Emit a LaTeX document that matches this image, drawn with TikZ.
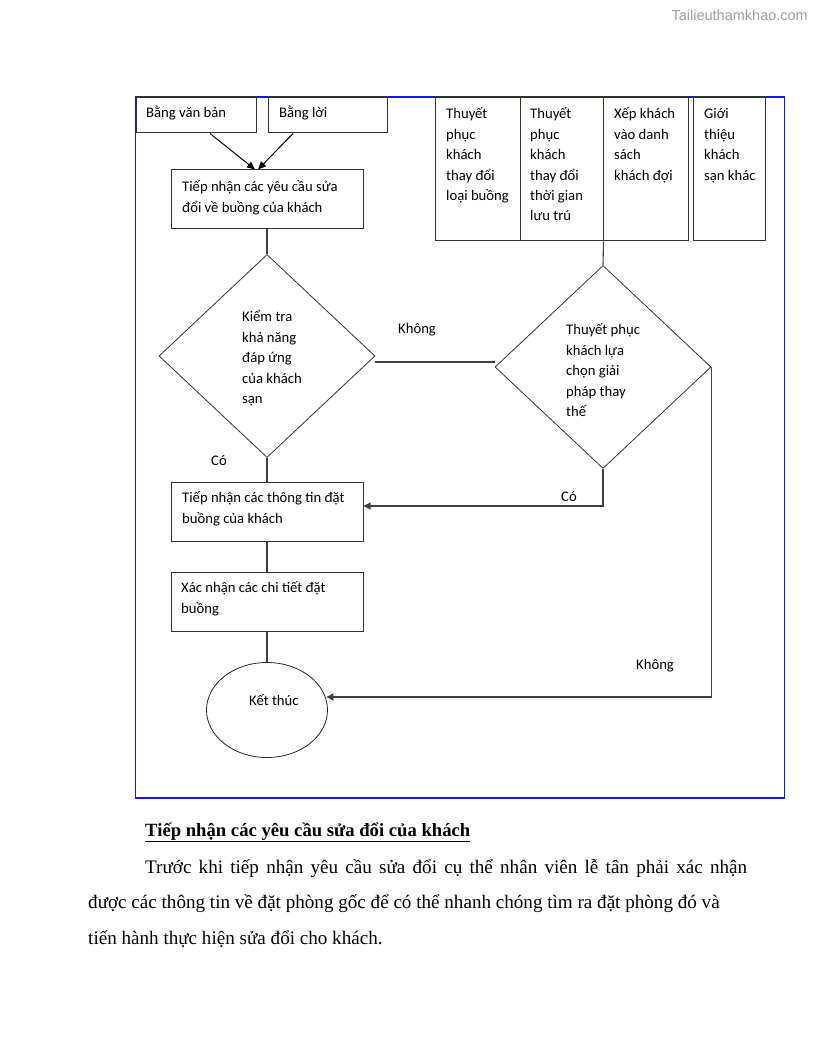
\documentclass[tikz,border=0pt]{standalone}
\usepackage{fontspec}
\setmainfont{Liberation Serif}
\newfontfamily\boxfont{Carlito}
\newfontfamily\wmfont{Liberation Sans}
\usetikzlibrary{shapes.geometric,arrows.meta,calc}
\tikzset{
  every picture/.style={line join=miter},
  box/.style={draw=black!80, line width=1pt, inner sep=0, rectangle},
  dia/.style={draw=black!80, line width=0.8pt, inner sep=0, diamond, minimum width=216, minimum height=203},
  endnode/.style={draw=black!85, line width=0.8pt, inner sep=0, ellipse, minimum width=121, minimum height=95},
  conn/.style={draw=black!75, line width=1.1pt},
  arr/.style={conn, -{Triangle[length=7pt,width=7pt]}},
  darr/.style={draw=black, line width=1pt, -{Triangle[length=8pt,width=7pt]}},
  txt/.style={anchor=north west, inner sep=0, align=left, font=\boxfont\fontsize{14.67}{20.4}\selectfont},
  body/.style={anchor=base west, inner sep=0, font=\fontsize{19.1}{24}\selectfont},
  frame/.style={draw={rgb,255:red,20;green,20;blue,255}, line width=1.3pt}
}
\begin{document}
\begin{tikzpicture}[x=1pt,y=-1pt]
\path[use as bounding box] (0,0) rectangle (816,1056);
% watermark
\node[anchor=base east, inner sep=0, font=\wmfont\fontsize{14.5}{16}\selectfont, text=black!38] (wm) at (808,21) {Tailieuthamkhao.com};
% frame
\draw[frame] (135.5,97) rectangle (784.5,798);
% boxes
\node[box, minimum width=120, minimum height=36] (b1) at (196,115) {};
\node[box, minimum width=119, minimum height=36] (b2) at (327.5,115) {};
\node[box, minimum width=192, minimum height=59] (b3) at (267,199.5) {};
\node[box, minimum width=85, minimum height=144] (t1) at (477.5,169) {};
\node[box, minimum width=83, minimum height=144] (t2) at (561.5,169) {};
\node[box, minimum width=85, minimum height=144] (t3) at (645.5,169) {};
\node[box, minimum width=72, minimum height=144] (t4) at (729,169) {};
\node[dia] (d1) at (267,356) {};
\node[dia] (d2) at (603,367) {};
\node[box, minimum width=192, minimum height=59] (b4) at (267,511.5) {};
\node[box, minimum width=192, minimum height=59] (b5) at (267,601.5) {};
\node[endnode] (end) at (267,710) {};
% texts
\node[txt] (tb1) at (146,103.5) {\strut Bằng văn bản};
\node[txt] (tb2) at (279,103.5) {\strut Bằng lời};
\node[txt] (tb3) at (182,177.5) {\strut Tiếp nhận các yêu cầu sửa\\đổi về buồng của khách};
\node[txt] (tt1) at (446,104.5) {\strut Thuyết\\phục\\khách\\thay đổi\\loại buồng};
\node[txt] (tt2) at (530,104.5) {\strut Thuyết\\phục\\khách\\thay đổi\\thời gian\\lưu trú};
\node[txt] (tt3) at (614,104.5) {\strut Xếp khách\\vào danh\\sách\\khách đợi};
\node[txt] (tt4) at (704,104.5) {\strut Giới\\thiệu\\khách\\sạn khác};
\node[txt] (td1) at (242,307.5) {\strut Kiểm tra\\khả năng\\đáp ứng\\của khách\\sạn};
\node[txt] (td2) at (566,320.5) {\strut Thuyết phục\\khách lựa\\chọn giải\\pháp thay\\thế};
\node[txt] (tb4) at (182,488.5) {\strut Tiếp nhận các thông tin đặt\\buồng của khách};
\node[txt] (tb5) at (181,578.5) {\strut Xác nhận các chi tiết đặt\\buồng};
\node[txt] (tend) at (249,691.5) {\strut Kết thúc};
\node[txt] (lk1) at (398,319.5) {\strut Không};
\node[txt] (lc1) at (211,451.5) {\strut Có};
\node[txt] (lc2) at (561,487.5) {\strut Có};
\node[txt] (lk2) at (636,655.5) {\strut Không};
% connectors
\draw[darr] ($(b1.south)+(14,0)$) -- ($(b3.north)+(-12,0)$);
\draw[darr] ($(b2.south)+(-34.5,0)$) -- ($(b3.north)+(-9,0)$);
\draw[conn] (b3.south) -- (d1.north);
\draw[conn] (d2.north) -- (t2.south east);
\draw[conn] ($(d1.east)+(0,6)$) coordinate (h1) -- (h1 -| d2.west);
\draw[conn] (d1.south) -- (b4.north);
\coordinate (c2) at ($(b4.east)+(0,-5.5)$);
\draw[arr] (d2.south) |- (c2);
\draw[conn] (b4.south) -- (b5.north);
\draw[conn] (b5.south) -- (end.north);
\coordinate (c3) at ($(end.east)+(-1.5,-13)$);
\draw[arr] (d2.east) |- (c3);
% body text
\node[body, font=\bfseries\fontsize{18.67}{24}\selectfont] (head) at (145,836) {\underline{Tiếp nhận các yêu cầu sửa đổi của khách}};
\node[body] (p1) at (145,873) {\makebox[602pt][s]{Trước khi tiếp nhận yêu cầu sửa đổi cụ thể nhân viên lễ tân phải xác nhận}};
\node[body] (p2) at (88,908.5) {được các thông tin về đặt phòng gốc để có thể nhanh chóng tìm ra đặt phòng đó và};
\node[body] (p3) at (88,944) {tiến hành thực hiện sửa đổi cho khách.};
\end{tikzpicture}
\end{document}
